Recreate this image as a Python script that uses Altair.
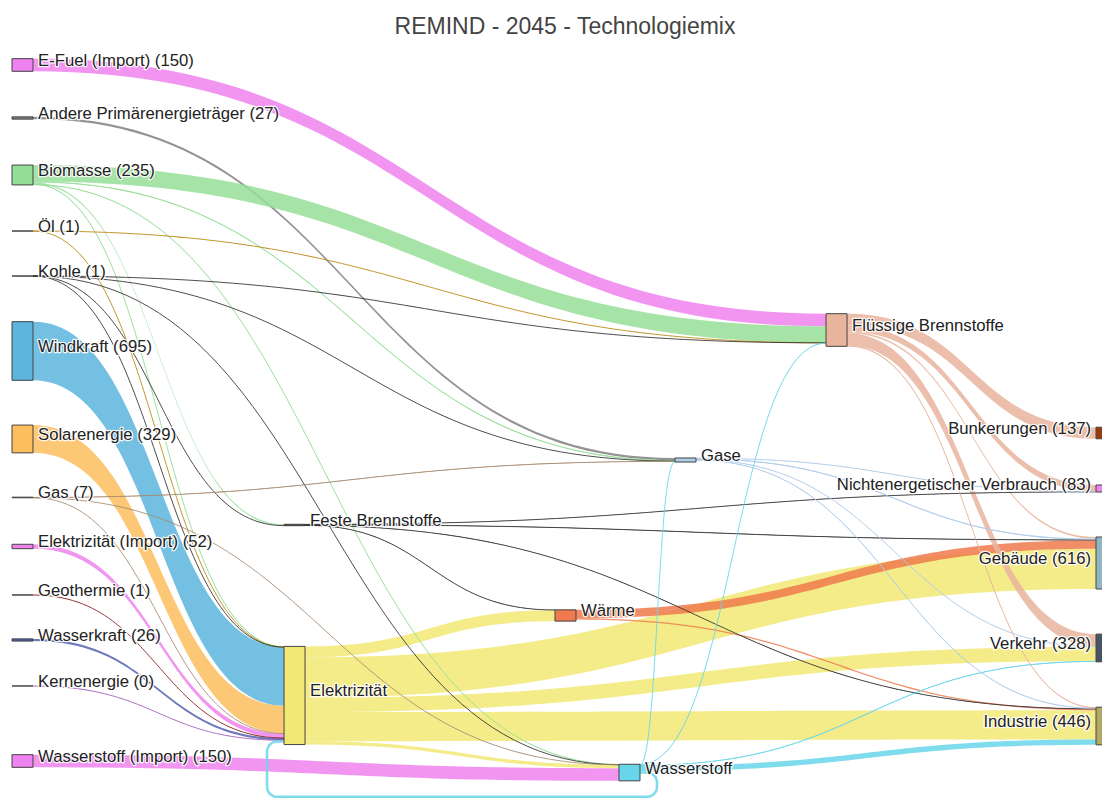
import altair as alt
import numpy as np
import pandas as pd

TITLE = "REMIND - 2045 - Technologiemix"

# ---------------- nodes ----------------
nodes = [
    "E-Fuel (Import)", "Andere Primärenergieträger", "Biomasse", "Öl", "Kohle",
    "Windkraft", "Solarenergie", "Gas", "Elektrizität (Import)", "Geothermie",
    "Wasserkraft", "Kernenergie", "Wasserstoff (Import)",
    "Feste Brennstoffe", "Elektrizität", "Wärme", "Wasserstoff", "Gase",
    "Flüssige Brennstoffe",
    "Bunkerungen", "Nichtenergetischer Verbrauch", "Gebäude", "Verkehr", "Industrie",
]
node_colors = [
    "#EE82EE", "#808080", "#95DE98", "#B8860B", "#2F2F2F",
    "#5BB5DD", "#FDBE5E", "#A88B70", "#EE82EE", "#8B1A1A",
    "#5560B0", "#9B59B6", "#EE82EE",
    "#333333", "#F2E974", "#EE7A4E", "#68D6EA", "#AFCBEA",
    "#E8B49C",
    "#9A3A0E", "#EE82EE", "#8FB7C3", "#475563", "#B3A964",
]
# arrangement (as plotly's node.x / node.y): column and centre, fractions of the plot
node_x = [0.0] * 13 + [0.2462, 0.2462, 0.4914, 0.5493, 0.6000, 0.7367] + [0.981] * 5
node_y = [
    0.0265, 0.0968, 0.1724, 0.2467, 0.3064, 0.4058, 0.5225, 0.6001, 0.6651,
    0.7294, 0.7891, 0.8501, 0.9496,
    0.6366, 0.8627, 0.7566, 0.9649, 0.5504, 0.3780,
    0.5146, 0.5882, 0.6870, 0.7997, 0.9032,
]

# ---------------- links ----------------
link_source = [
    "E-Fuel (Import)", "Andere Primärenergieträger",
    "Biomasse", "Biomasse", "Biomasse", "Biomasse", "Biomasse",
    "Öl", "Öl",
    "Kohle", "Kohle", "Kohle", "Kohle", "Kohle",
    "Windkraft", "Solarenergie",
    "Gas", "Gas", "Gas",
    "Elektrizität (Import)", "Geothermie", "Wasserkraft", "Kernenergie",
    "Wasserstoff (Import)",
    "Feste Brennstoffe", "Feste Brennstoffe", "Feste Brennstoffe", "Feste Brennstoffe",
    "Elektrizität", "Elektrizität", "Elektrizität", "Elektrizität", "Elektrizität",
    "Wärme", "Wärme",
    "Wasserstoff", "Wasserstoff", "Wasserstoff", "Wasserstoff", "Wasserstoff",
    "Gase", "Gase", "Gase", "Gase",
    "Flüssige Brennstoffe", "Flüssige Brennstoffe", "Flüssige Brennstoffe",
    "Flüssige Brennstoffe", "Flüssige Brennstoffe",
]
link_target = [
    "Flüssige Brennstoffe", "Gase",
    "Flüssige Brennstoffe", "Gase", "Feste Brennstoffe", "Elektrizität", "Wasserstoff",
    "Flüssige Brennstoffe", "Elektrizität",
    "Flüssige Brennstoffe", "Gase", "Feste Brennstoffe", "Elektrizität", "Wasserstoff",
    "Elektrizität", "Elektrizität",
    "Gase", "Elektrizität", "Wasserstoff",
    "Elektrizität", "Elektrizität", "Elektrizität", "Elektrizität",
    "Wasserstoff",
    "Nichtenergetischer Verbrauch", "Gebäude", "Wärme", "Industrie",
    "Wärme", "Gebäude", "Verkehr", "Industrie", "Wasserstoff",
    "Gebäude", "Industrie",
    "Flüssige Brennstoffe", "Gase", "Verkehr", "Industrie", "Elektrizität",
    "Nichtenergetischer Verbrauch", "Gebäude", "Verkehr", "Industrie",
    "Bunkerungen", "Nichtenergetischer Verbrauch", "Gebäude", "Verkehr", "Industrie",
]
link_value = [
    150, 27,
    195, 10, 16, 8, 6,
    0.6, 0.4,
    0.2, 0.2, 0.3, 0.2, 0.1,
    695, 329,
    6, 0.5, 0.5,
    52, 1, 26, 0.2,
    150,
    3, 6, 3.5, 4,
    130, 478, 170, 345, 40,
    100, 15,
    5, 5, 9, 64, 30,
    5, 12, 4, 8,
    137, 75, 20, 145, 10,
]

# ---------------- layout computation ----------------
W, H = 1090, 754
XMAX = 1090 / 1105          # right column is partly cut by the window
YMAX = 8934.0               # flow units spanned by the plot height
NODE_W = 0.019
kx, ky = W / XMAX, H / YMAX

n = len(nodes)
idx = {name: i for i, name in enumerate(nodes)}
src = [idx[s] for s in link_source]
tgt = [idx[t] for t in link_target]
val = np.array(link_value, dtype=float)

out_sum = np.zeros(n)
in_sum = np.zeros(n)
for s, t, v in zip(src, tgt, val):
    out_sum[s] += v
    in_sum[t] += v
height = np.maximum(out_sum, in_sum)
xc = np.array(node_x)
yc = np.array(node_y) * YMAX
y0 = yc - height / 2
x0 = xc
x1 = xc + NODE_W

L = len(val)
src_off = np.zeros(L)
tgt_off = np.zeros(L)
cum = y0.copy()
for k in range(L):
    src_off[k] = cum[src[k]]
    cum[src[k]] += val[k]
cum = y0.copy()
for k in sorted(range(L), key=lambda k: (tgt[k], yc[src[k]])):
    tgt_off[k] = cum[tgt[k]]
    cum[tgt[k]] += val[k]

ts = np.linspace(0, 1, 60)
area_rows, thin_rows, loop_rows = [], [], []
for k in range(L):
    s, t = src[k], tgt[k]
    color = node_colors[s]
    if x0[t] > x1[s]:
        xa, xb = x1[s], x0[t]
        xm = (xa + xb) / 2
        xs = xa * (1 - ts) ** 3 + 3 * xm * (1 - ts) ** 2 * ts + 3 * xm * (1 - ts) * ts ** 2 + xb * ts ** 3
        f = 3 * ts ** 2 - 2 * ts ** 3
        ytop = src_off[k] + (tgt_off[k] - src_off[k]) * f
        for xv, yv in zip(xs, ytop):
            area_rows.append({"link": k, "x": xv, "y": yv, "y2": yv + val[k], "color": color})
            if val[k] * ky < 1.2:
                thin_rows.append({"link": k, "x": xv, "y": yv + val[k] / 2, "color": color})
    else:
        # circular link drawn below the nodes
        e, r = 7.0, 10.0
        xs_p = x1[s] * kx
        ys_p = (src_off[k] + val[k] / 2) * ky
        xt_p = x0[t] * kx
        yt_p = (tgt_off[k] + val[k] / 2) * ky
        yb_p = max(y0[s] + height[s], y0[t] + height[t]) * ky + 16
        pts = [(xs_p, ys_p), (xs_p + e, ys_p)]
        a = np.linspace(-np.pi / 2, 0, 10)
        pts += [(xs_p + e + r * np.cos(q), ys_p + r + r * np.sin(q)) for q in a]
        a = np.linspace(0, np.pi / 2, 10)
        pts += [(xs_p + e + r * np.cos(q), yb_p - r + r * np.sin(q)) for q in a]
        a = np.linspace(np.pi / 2, np.pi, 10)
        pts += [(xt_p - e + r * np.cos(q), yb_p - r + r * np.sin(q)) for q in a]
        a = np.linspace(np.pi, 1.5 * np.pi, 10)
        pts += [(xt_p - e + r * np.cos(q), yt_p + r + r * np.sin(q)) for q in a]
        pts += [(xt_p, yt_p)]
        for i, (px, py) in enumerate(pts):
            loop_rows.append({"link": k, "i": i, "x": px / kx, "y": py / ky, "color": color,
                              "w": val[k] * ky})

links_df = pd.DataFrame(area_rows)
thin_df = pd.DataFrame(thin_rows)
loop_df = pd.DataFrame(loop_rows)

is_src = in_sum == 0
is_sink = out_sum == 0
labels = []
for i in range(n):
    txt = nodes[i]
    if is_src[i]:
        txt += f" ({out_sum[i]:.0f})"
    elif is_sink[i]:
        txt += f" ({in_sum[i]:.0f})"
    labels.append(txt)

nodes_df = pd.DataFrame({
    "name": nodes, "label": labels, "color": node_colors,
    "x0": x0, "x1": x1, "y0": y0, "y1": y0 + height, "yc": yc,
    "side": ["right" if xv > 0.9 else "left" for xv in xc],
})

X = lambda f: alt.X(f, type="quantitative", axis=None,
                    scale=alt.Scale(domain=[0, XMAX], nice=False, zero=False))
Y = lambda f: alt.Y(f, type="quantitative", axis=None,
                    scale=alt.Scale(domain=[0, YMAX], reverse=True, nice=False, zero=False))

areas = alt.Chart(links_df).mark_area(orient="vertical", opacity=0.85).encode(
    x=X("x"), y=Y("y"), y2="y2", detail="link:N",
    color=alt.Color("color:N", scale=None),
)
thin = alt.Chart(thin_df).mark_line(strokeWidth=1, opacity=0.85).encode(
    x=X("x"), y=Y("y"), detail="link:N", color=alt.Color("color:N", scale=None),
)
loop = alt.Chart(loop_df).mark_line(opacity=0.85, strokeWidth=float(loop_df["w"].iloc[0])).encode(
    x=X("x"), y=Y("y"), detail="link:N", order=alt.Order("i:Q"),
    color=alt.Color("color:N", scale=None),
)
rects = alt.Chart(nodes_df).mark_rect(stroke="#444444", strokeWidth=1).encode(
    x=X("x0"), x2="x1", y=Y("y0"), y2="y1", fill=alt.Fill("color:N", scale=None),
)

FONT = "Liberation Sans"
FS = 16.7
base_l = alt.Chart(nodes_df).transform_filter(alt.datum.side == "left")
base_r = alt.Chart(nodes_df).transform_filter(alt.datum.side == "right")
halo_kw = dict(baseline="middle", dy=-4, font=FONT, fontSize=FS, fill="white",
               stroke="white", strokeWidth=2.5, strokeOpacity=0.9, strokeJoin="round")
txt_kw = dict(baseline="middle", dy=-4, font=FONT, fontSize=FS, fill="#222222")
lab_l_h = base_l.mark_text(align="left", dx=5, **halo_kw).encode(x=X("x1"), y=Y("yc"), text="label:N")
lab_l = base_l.mark_text(align="left", dx=5, **txt_kw).encode(x=X("x1"), y=Y("yc"), text="label:N")
lab_r_h = base_r.mark_text(align="right", dx=-5, **halo_kw).encode(x=X("x0"), y=Y("yc"), text="label:N")
lab_r = base_r.mark_text(align="right", dx=-5, **txt_kw).encode(x=X("x0"), y=Y("yc"), text="label:N")

chart = alt.layer(areas, thin, loop, rects, lab_l_h, lab_r_h, lab_l, lab_r).properties(
    width=W, height=H, autosize="none",
    padding={"left": 4, "top": 37, "right": 0, "bottom": 0},
    title=alt.TitleParams(TITLE, fontSize=23, font=FONT, fontWeight="normal",
                          color="#444444", anchor="middle", frame="group", offset=6, dx=8),
).configure_view(stroke=None)

chart.save("out.html", embed_options={"renderer": "svg", "actions": False})
